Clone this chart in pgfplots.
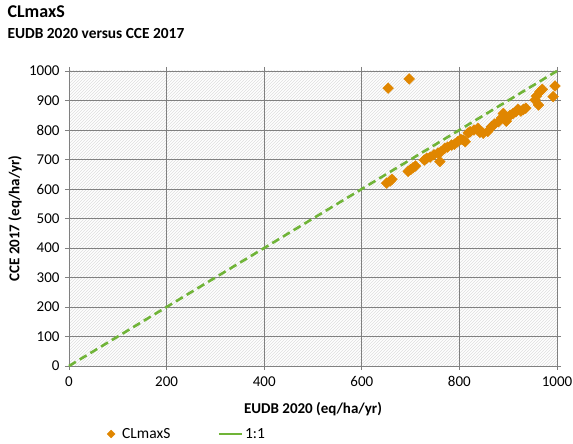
\documentclass[border=0pt]{standalone}
\usepackage{fontspec}
\setmainfont{Carlito}
\usepackage{pgfplots}
\pgfplotsset{compat=1.18}
\usetikzlibrary{patterns}
\definecolor{dorange}{RGB}{224,134,0}
\definecolor{lgreen}{RGB}{112,180,56}
\definecolor{gridc}{RGB}{128,128,128}
\definecolor{xaxc}{RGB}{60,110,160}
\begin{document}
\begin{tikzpicture}
\useasboundingbox (-69pt,-78pt) rectangle (504pt,366pt);
\begin{axis}[
  scale only axis, width=488pt, height=295pt,
  xmin=0, xmax=1000, ymin=0, ymax=1000,
  xtick={0,200,...,1000}, ytick={0,100,...,1000},
  /pgf/number format/assume math mode=true,
  /pgf/number format/1000 sep={},
  tick label style={font=\fontsize{15}{17}\selectfont, black},
  xticklabel style={yshift=-3pt},
  yticklabel style={xshift=-2pt},
  tick align=outside, major tick length=4pt,
  grid=major, major grid style={gridc, line width=0.8pt},
  axis line style={gridc, line width=0.8pt},
  x axis line style={xaxc},
  tick style={gridc, line width=0.8pt},
  axis background/.style={fill=white, postaction={pattern=north east lines, pattern color=gray!25}},
  xlabel={\textbf{EUDB 2020 (eq/ha/yr)}},
  ylabel={\textbf{CCE 2017 (eq/ha/yr)}},
  label style={font=\fontsize{15}{17}\selectfont},
  xlabel style={at={(axis description cs:0.5,-0.145)}, anchor=center},
  ylabel style={at={(axis description cs:-0.1107,0.5)}, anchor=center},
  legend columns=2,
  legend style={at={(axis description cs:0.0738,-0.2305)}, anchor=west, draw=none, fill=none,
    inner sep=0pt, font=\fontsize{15.5}{17}\selectfont,
    /tikz/every even column/.append style={column sep=45pt}},
  legend cell align=left,
  clip=false,
]
\addplot[only marks, mark=square*, mark size=3.8pt, mark options={rotate=45, dorange, fill=dorange},
  legend image code/.code={\path[draw=none, fill=none] (-1pt,0pt) -- (14pt,0pt);
    \path[draw=none, mark=square*, mark size=2.8pt, mark options={rotate=45, draw=dorange, fill=dorange}] plot coordinates {(5pt,0pt)};}] coordinates {
(654,942) (697,973)
(651,620) (658,627) (662,633)
(695,660) (700,666) (705,672) (710,678)
(728,698) (733,704) (740,708)
(748,716) (756,722) (760,693) (762,726)
(770,738) (776,742) (784,749) (790,752)
(796,760) (803,768) (808,766) (812,760)
(818,790) (822,794) (830,800) (838,806)
(842,792) (849,789) (858,795) (866,811)
(872,820) (880,828) (886,840) (890,856)
(896,830) (904,850) (910,856) (916,862)
(920,870) (926,864) (931,870) (936,874)
(955,902) (958,915) (962,885) (965,930)
(970,938) (992,913) (996,949)
};
\addlegendentry{CLmaxS}
\addplot[lgreen, line width=2.6pt, dash pattern=on 8pt off 4.5pt,
  legend image code/.code={\draw[lgreen, solid, line width=2.6pt] (0pt,0pt) -- (23pt,0pt);}] coordinates {(0,0) (1000,1000)};
\addlegendentry{1:1}
\end{axis}
\node[anchor=base west, font=\bfseries\fontsize{18}{20}\selectfont] at (-65pt,348pt) {CLmaxS};
\node[anchor=base west, font=\bfseries\fontsize{15.4}{17}\selectfont] at (-65pt,327pt) {EUDB 2020 versus CCE 2017};
\end{tikzpicture}
\end{document}
